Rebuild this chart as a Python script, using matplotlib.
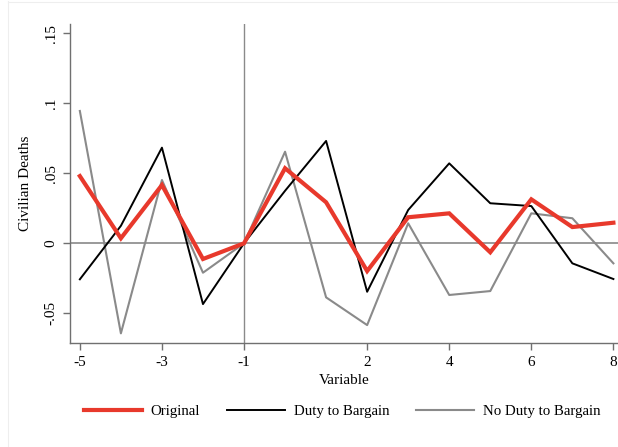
import matplotlib
matplotlib.use("Agg")
import matplotlib.pyplot as plt
from matplotlib.lines import Line2D

x = [-5, -4, -3, -2, -1, 0, 1, 2, 3, 4, 5, 6, 7, 8]
original = [0.048, 0.0036, 0.0416, -0.0112, 0.0, 0.0536, 0.0293, -0.0198, 0.0186, 0.0214, -0.0064, 0.0314, 0.0116, 0.0147]
duty = [-0.0257, 0.0125, 0.0683, -0.0434, 0.0, 0.0375, 0.0731, -0.0346, 0.0238, 0.0571, 0.0286, 0.0266, -0.0143, -0.0255]
no_duty = [0.0945, -0.0643, 0.0452, -0.021, 0.0, 0.0654, -0.0386, -0.0584, 0.0143, -0.0369, -0.0341, 0.0214, 0.0179, -0.0143]

xticks = [-5, -3, -1, 2, 4, 6, 8]
yticks = [-0.05, 0, 0.05, 0.1, 0.15]
ytick_labels = ["-.05", "0", ".05", ".1", ".15"]

plt.rcParams['font.family'] = ['Liberation Serif', 'DejaVu Serif']

W, H = 618, 447
fig = plt.figure(figsize=(W / 100, H / 100), dpi=100)
ax = fig.add_axes([70 / W, 1 - 343.3 / H, (617.5 - 70) / W, (343.3 - 24) / H])

ax.axhline(0, color='#9a9a9a', lw=1.4, zorder=1)
ax.axvline(-1, color='#8a8a8a', lw=1.0, zorder=1)

ax.plot(x, original, color='#e8392c', lw=3.0, label='Original', zorder=4, solid_joinstyle='miter')
ax.plot(x, duty, color='#000000', lw=1.4, label='Duty to Bargain', zorder=3)
ax.plot(x, no_duty, color='#8a8a8a', lw=1.5, label='No Duty to Bargain', zorder=2)

ax.set_xlim(-5.24, 8.1)
ax.set_ylim(-0.0714, 0.1566)
ax.set_xticks(xticks)
ax.set_xticklabels([str(t) for t in xticks])
ax.set_yticks(yticks)
ax.set_yticklabels(ytick_labels, rotation=90, va='center')

for s in ['top', 'right']:
    ax.spines[s].set_visible(False)
for s in ['left', 'bottom']:
    ax.spines[s].set_color('#707070')
    ax.spines[s].set_linewidth(1.0)
ax.tick_params(axis='both', direction='out', length=5, width=1.0, color='#707070',
               labelsize=11, labelcolor='black', pad=4)

ax.set_xlabel('Variable', fontsize=11, labelpad=4)
ax.set_ylabel('Civilian Deaths', fontsize=11, labelpad=9)

leg = fig.legend(loc='center', bbox_to_anchor=(342 / W, 1 - 411 / H), ncol=3, frameon=False,
                 fontsize=10.7, handlelength=3.9, handletextpad=0.6, columnspacing=1.8)

fig.add_artist(Line2D([8 / W, 8 / W], [0, 1 - 1 / H], color='#eeeeee', lw=0.8, transform=fig.transFigure))
fig.add_artist(Line2D([8 / W, 1], [1 - 1.5 / H, 1 - 1.5 / H], color='#eeeeee', lw=0.8, transform=fig.transFigure))

fig.savefig('out.png', dpi=100, facecolor='white')
